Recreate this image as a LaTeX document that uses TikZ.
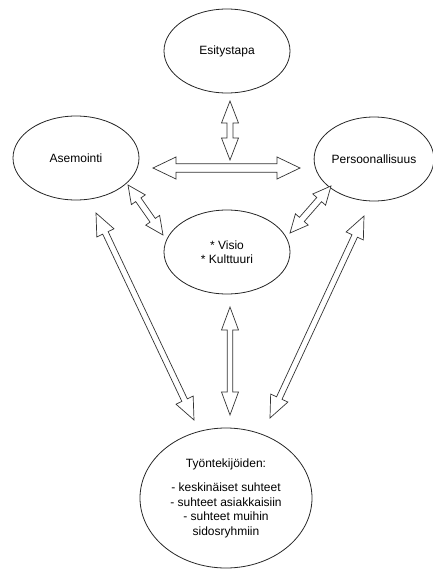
\documentclass[tikz,border=0pt]{standalone}
\usepackage{fontspec}
\setmainfont{Liberation Sans}
\usetikzlibrary{shapes.geometric,calc}

\tikzset{
  bubble/.style={draw=black!85, line width=0.8pt, ellipse, inner sep=0pt,
    minimum width=126pt, minimum height=84pt, align=center,
    font=\fontsize{12}{14.5}\selectfont},
  flexline/.style={draw=black!80, line width=0.7pt, line join=miter, fill=white}
}

% hollow two-headed arrow: start, end, head length, head half width, shaft half width
\newcommand{\dblarrow}[5]{%
  \draw[flexline] (#1) -- ($(#1)!#3!(#2)!#4!90:(#2)$) -- ($(#1)!#3!(#2)!#5!90:(#2)$)
    -- ($(#2)!#3!(#1)!#5!-90:(#1)$) -- ($(#2)!#3!(#1)!#4!-90:(#1)$) -- (#2)
    -- ($(#2)!#3!(#1)!#4!90:(#1)$) -- ($(#2)!#3!(#1)!#5!90:(#1)$)
    -- ($(#1)!#3!(#2)!#5!-90:(#2)$) -- ($(#1)!#3!(#2)!#4!-90:(#2)$) -- cycle;}

\begin{document}
\begin{tikzpicture}[x=1pt, y=-1pt]
  \useasboundingbox (0,0) rectangle (433,571);

  % ellipses
  \node[bubble] (esitys) at (227,51) {Esitystapa};
  \node[bubble] (asem) at (76,158) {Asemointi};
  \node[bubble, minimum width=118pt] (pers) at (374,159) {Persoonallisuus};
  \node[bubble] (visio) at (227,252) {* Visio\\* Kulttuuri};
  \node[bubble, minimum width=172pt, minimum height=140pt] (tyont) at (226,498)
    {Työntekijöiden:\\[10pt]- keskinäiset suhteet\\- suhteet asiakkaisiin\\- suhteet muihin\\sidosryhmiin};

  % arrow ends
  \coordinate (top-a) at (230,101);   \coordinate (top-b) at (230,160);
  \coordinate (mid-a) at (153,168);   \coordinate (mid-b) at (300,168);
  \coordinate (asv-a) at (128,185);   \coordinate (asv-b) at (163,235);
  \coordinate (pev-a) at (331,186);   \coordinate (pev-b) at (290,233);
  \coordinate (ast-a) at (96,213);    \coordinate (ast-b) at (194,420);
  \coordinate (pet-a) at (364,216);   \coordinate (pet-b) at (270,418);
  \coordinate (vit-a) at (230,307);   \coordinate (vit-b) at (230,415);

  % arrows
  \dblarrow{top-a}{top-b}{22pt}{8.5pt}{3pt}
  \dblarrow{mid-a}{mid-b}{23pt}{11pt}{4.3pt}
  \dblarrow{asv-a}{asv-b}{18pt}{8.5pt}{3.2pt}
  \dblarrow{pev-a}{pev-b}{18pt}{8.5pt}{3.2pt}
  \dblarrow{ast-a}{ast-b}{22pt}{9.5pt}{3pt}
  \dblarrow{pet-a}{pet-b}{22pt}{9.5pt}{3pt}
  \dblarrow{vit-a}{vit-b}{23pt}{8.5pt}{2.8pt}
\end{tikzpicture}
\end{document}
